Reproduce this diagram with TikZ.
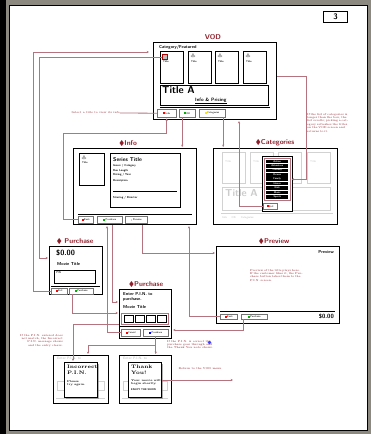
\documentclass[tikz,border=0pt]{standalone}
\usepackage{fontspec}
\usepackage{amssymb}
\usepackage{xcolor}
\usetikzlibrary{arrows.meta,shadows}
\definecolor{wire}{HTML}{B5737D}
\definecolor{ttlred}{HTML}{8E1F2A}
\definecolor{rim}{HTML}{8C8A80}

\begin{document}
\begin{tikzpicture}[x=1pt,y=-1pt,
  screen/.style={draw,line width=1.1pt,anchor=north west,inner sep=0pt,fill=white},
  pane/.style={draw,line width=0.9pt,anchor=north west,inner sep=0pt},
  ttl/.style={text=ttlred,font=\sffamily\bfseries\fontsize{7}{8}\selectfont,inner sep=0pt},
  btn/.style={draw=black!55,line width=0.4pt,anchor=north west,inner sep=0pt,fill=white,
    font=\sffamily\fontsize{2.6}{3}\selectfont},
  fine/.style={font=\sffamily\fontsize{2.8}{3.4}\selectfont,inner sep=0pt,anchor=north west,align=left},
  note/.style={text=ttlred,font=\fontsize{2.8}{3.4}\selectfont,inner sep=0pt,anchor=north west,align=left},
  wire/.style={draw=wire,line width=0.8pt},
  arr/.style={-{Stealth[length=2.4pt,width=2.2pt]},shorten >=1pt},
  rarr/.style={{Stealth[length=2.4pt,width=2.2pt]}-,shorten <=1pt}]
  \useasboundingbox (0,0) rectangle (371,434);
  \fill[rim] (0,0) rectangle (371,434);
  \fill[black] (0,0) rectangle (6,434);
  \node[draw,line width=1.2pt,fill=white,anchor=north west,inner sep=0pt,
    minimum width=358pt,minimum height=425pt] (page) at (9,5) {};
  \node[draw,line width=1.1pt,minimum width=24pt,minimum height=11pt,inner sep=0pt,anchor=north west,
    font=\sffamily\bfseries\fontsize{8}{8}\selectfont] (pgno) at (323,11) {3};

  % VOD screen
  \node[ttl] (vodttl) at (213,37) {VOD};
  \node[screen,minimum width=123pt,minimum height=77pt] (vod) at (153,42) {};
  \node[fine,font=\sffamily\bfseries\fontsize{4.3}{5}\selectfont] (vodcat) at (159,45.5) {Category/Featured};
  \foreach \x [count=\i] in {160,188,215,243}{
    \node[pane,line width=0.8pt,minimum width=23pt,minimum height=32pt] (t\i) at (\x,51) {};
    \node[fine,font=\sffamily\bfseries\fontsize{2.5}{3}\selectfont] (t\i l) at (\x+3,60.5) {Title};}
  \node[draw=red!70!black,fill=gray!50,minimum size=5pt,inner sep=0pt,line width=0.5pt] (t1i) at (165,57) {};
  \foreach \x [count=\i from 2] in {188,215,243}
    \node[text=gray!70,inner sep=0pt,font=\fontsize{4}{4}\selectfont] (t\i i) at (\x+5,56.5) {$\clubsuit$};
  \node[pane,minimum width=108pt,minimum height=20pt] (tbox) at (160,85) {};
  \node[fine,font=\sffamily\bfseries\fontsize{10}{10}\selectfont] (tname) at (162,86) {Title A};
  \node[fine,font=\sffamily\bfseries\fontsize{4.8}{5}\selectfont] (tinfo) at (195,97.5) {\underline{Info \& Pricing}};
  \draw[line width=1pt] (160,107) -- (270,107);

  % Info screen
  \node[ttl] (infottl) at (128,143) {$\blacklozenge$Info};
  \node[screen,minimum width=123pt,minimum height=76pt] (info) at (73,148) {};
  \node[pane,line width=0.8pt,minimum width=25pt,minimum height=32pt] (poster) at (79,153) {};
  \node[text=gray!70,inner sep=0pt,font=\fontsize{4}{4}\selectfont] (posteri) at (84,158) {$\clubsuit$};
  \node[fine,font=\sffamily\bfseries\fontsize{2.5}{3}\selectfont] (posterl) at (82,162) {Title};
  \node[pane,line width=0.8pt,minimum width=70pt,minimum height=54pt] (det) at (110,153) {};
  \node[fine,font=\sffamily\bfseries\fontsize{5.5}{6}\selectfont] (stitle) at (113,157) {Series Title};
  \node[fine,font=\sffamily\bfseries\fontsize{2.8}{3.6}\selectfont] (sdesc) at (113,164)
    {Genre / Category\\[2pt] Run Length\\ Rating / Year\\[2.5pt] Description};
  \draw[line width=0.8pt] (113,191) -- (177,191);
  \node[fine,font=\sffamily\bfseries\fontsize{2.8}{3.4}\selectfont] (scast) at (113,196) {Starring / Director};
  \draw[line width=0.8pt] (78,214) -- (192,214);

  % Categories screen
  \node[ttl] (catttl) at (275,143) {$\blacklozenge$Categories};
  \node[screen,minimum width=124pt,minimum height=76pt] (cat) at (213,148) {};
  \foreach \x [count=\i] in {222,250,278,307}{
    \node[pane,draw=gray!35,line width=0.8pt,minimum width=23pt,minimum height=31pt] (c\i) at (\x,152) {};
    \node[fine,text=gray!45] (c\i l) at (\x+3,160) {Title};}
  \node[pane,draw=gray!35,minimum width=108pt,minimum height=23pt] (ctbox) at (222,187) {};
  \node[fine,text=gray!40,font=\sffamily\bfseries\fontsize{10}{10}\selectfont] (ctname) at (225,189) {Title A};
  \draw[gray!35,line width=0.9pt] (221,213) -- (333,213);
  \node[fine,text=gray!50] (cbtns) at (222,216.5) {Info \quad\ OK \quad\ Categories};
  \node[screen,line width=1pt,minimum width=30pt,minimum height=55pt] (pop) at (262,156) {};
  \node[pane,draw=wire,line width=0.6pt,minimum width=26pt,minimum height=42pt] (plist) at (264,158) {};
  \foreach \t [count=\i] in {Action,Adventure,Comedy,Drama,Family,Horror,Kids,Music,Sports}
    \node[fill=black,text=white,anchor=north west,inner sep=0pt,minimum width=22pt,minimum height=3.6pt,
      font=\sffamily\bfseries\fontsize{2.5}{2.5}\selectfont] (ci\i) at (266,{159.5+(\i-1)*4.4}) {\t};

  % Purchase screens
  \node[ttl] (p1ttl) at (75,242) {$\blacklozenge$ Purchase};
  \node[screen,minimum width=53pt,minimum height=48pt] (pur1) at (49,246) {};
  \node[fine,font=\sffamily\bfseries\fontsize{7.5}{8}\selectfont] (p1price) at (56,250) {\$0.00};
  \node[fine,font=\sffamily\bfseries\fontsize{4.3}{5}\selectfont] (p1movie) at (57,262) {Movie Title};
  \node[pane,minimum width=41pt,minimum height=13pt] (p1pin) at (54,270) {};
  \node[fine] (p1pinl) at (56,271.5) {PIN};
  \draw[line width=0.8pt] (51,286.5) -- (100,286.5);
  \node[ttl] (p2ttl) at (146,284) {$\blacklozenge$Purchase};
  \node[screen,minimum width=52pt,minimum height=49pt] (pur2) at (119,289) {};
  \node[fine,font=\sffamily\bfseries\fontsize{4.3}{4.8}\selectfont] (p2msg) at (123,292.5) {Enter P.I.N. to\\purchase.};
  \node[fine,font=\sffamily\bfseries\fontsize{4.3}{4.8}\selectfont] (p2movie) at (123,305) {Movie Title};
  \node[pane,draw=wire,line width=0.7pt,minimum width=47pt,minimum height=11pt] (p2pin) at (121,313) {};
  \foreach \i in {0,...,3}
    \node[pane,line width=0.9pt,minimum width=9pt,minimum height=7pt] (pd\i) at ({124+\i*11},315) {};
  \draw[line width=0.9pt] (120,326.5) -- (170,326.5);

  % Preview screen
  \node[ttl] (pvttl) at (274,242) {$\blacklozenge$Preview};
  \node[screen,minimum width=123pt,minimum height=77pt] (prev) at (216,246) {};
  \node[fine,anchor=north east,font=\sffamily\bfseries\fontsize{4.3}{5}\selectfont] (pvlabel) at (334,250) {Preview};
  \node[note,anchor=north,text width=56pt] (pvtext) at (278,269)
    {Preview of the title plays here. If the customer likes it, the Purchase button takes them to the P.I.N. screen.};
  \draw[line width=0.9pt] (220,311) -- (335,311);
  \node[fine,anchor=north east,font=\sffamily\bfseries\fontsize{6}{6}\selectfont] (pvprice) at (334,314) {\$0.00};

  % buttons
  \foreach \n/\x/\y/\w/\h/\c/\t in {vb1/157/109/19/8/red/Info, vb2/179/109/16/8/green!70!black/OK,
      vb3/199/109/26/8/yellow!90!orange/Categories, ib1/78/216/15/7/red/Back,
      ib2/97/216/25/7/green!70!black/Purchase, ib3/125/216/22/7/yellow!90!orange/Preview,
      cx/263/203/14/6/red/Exit, p1b1/51/288/16/5.5/red/Exit, p1b2/69/288/24/5.5/green!70!black/Purchase,
      p2b1/121/329/19/7/red/Cancel, p2b2/143/329/25/7/blue/Purchase,
      pv1/220/314/17/5/red/Back, pv2/241/314/26/5/green!70!black/Purchase}
    \node[btn,minimum width=\w pt,minimum height=\h pt] (\n) at (\x,\y) {\textcolor{\c}{\rule{1.8pt}{1.8pt}}\,\t};

  % message screens
  \node[screen,minimum width=55pt,minimum height=48pt] (inc) at (53,355) {};
  \node[fine,text=gray!40,font=\sffamily\bfseries\fontsize{3.5}{4}\selectfont] (incbg) at (57,357) {Enter P.I.N. to};
  \node[pane,draw=gray!35,line width=0.7pt,minimum width=47pt,minimum height=9pt] (incbgbox) at (57,381) {};
  \draw[gray!35,line width=0.8pt] (56,398) -- (105,398);
  \node[screen,line width=1pt,minimum width=33pt,minimum height=35pt,
    drop shadow={opacity=0.6,shadow xshift=1.3pt,shadow yshift=-1.3pt}] (incp) at (64,362) {};
  \node[fine,font=\bfseries\fontsize{5}{5.5}\selectfont] (inct) at (67,365) {Incorrect\\P.I.N.};
  \node[fine,font=\bfseries\fontsize{2.8}{3.4}\selectfont] (incs) at (67,380) {Please\\try again.};
  \node[screen,minimum width=52pt,minimum height=48pt] (thx) at (119,355) {};
  \node[fine,text=gray!40,font=\sffamily\bfseries\fontsize{3.5}{4}\selectfont] (thxbg) at (123,357) {Enter P.I.N. to};
  \node[pane,draw=gray!35,line width=0.7pt,minimum width=44pt,minimum height=9pt] (thxbgbox) at (123,381) {};
  \draw[gray!35,line width=0.8pt] (122,398) -- (168,398);
  \node[screen,line width=1pt,minimum width=33pt,minimum height=35pt,
    drop shadow={opacity=0.6,shadow xshift=1.3pt,shadow yshift=-1.3pt}] (thxp) at (128,362) {};
  \node[fine,font=\bfseries\fontsize{5}{5.5}\selectfont] (thxt) at (131,365) {Thank\\You!};
  \node[fine,font=\bfseries\fontsize{2.8}{3.4}\selectfont] (thxs) at (131,379) {Your movie will\\begin shortly.};
  \node[fine,font=\sffamily\bfseries\fontsize{2.6}{3}\selectfont] (thxb) at (131,388) {ENJOY THE SHOW};

  % notes
  \node[note,anchor=east] (n1) at (120,113) {Select a title to view its info};
  \node[note,text width=43pt] (n2) at (307,113)
    {If the list of categories is longer than the box, the list scrolls; picking a category refreshes the titles on the VOD screen and returns to it.};
  \node[note,anchor=north east,align=right] (n3) at (63,334)
    {If the P.I.N. entered does\\not match, the Incorrect\\P.I.N. message shows\\and the entry clears.};
  \node[note] (n4) at (167,340) {If the P.I.N. is correct the\\purchase goes through and\\the Thank You note shows.};
  \node[circle,fill=blue!75,inner sep=1.4pt] (bdot) at (209.5,342.5) {};
  \node[note,anchor=south] (n5) at (200,369.5) {Return to the VOD menu};

  % connectors
  \draw[wire,arr,shorten >=4pt] (p1b1.west) -- ++(-18,0) |- ([yshift=-10pt]vod.north west);
  \draw[wire,arr] (t1i.west) -- ++(-123,0) |- ([yshift=-12pt]pur1.north west);
  \draw[wire,rarr] (vb1.south) -- ++(0,16) -- ++(-103,0) |- (ib1.west);
  \draw[wire,arr] ([xshift=-5pt]vb2.south) -- ([xshift=-5pt]vb2.south |- info.north);
  \draw[wire,arr] ([xshift=11pt]vb3.south) -- ([xshift=11pt]vb3.south |- cat.north);
  \draw[wire,rarr] ([xshift=86pt]vod.south west) |- (cx.west);
  \draw[wire,arr] ([yshift=4.5pt]vod.east) -- ++(29,0) |- (plist.east);
  \draw[wire] (n1.east) -- (vb1.west);
  \draw[wire,arr] ([xshift=39pt]info.south west) |- ([yshift=-13pt]pur2.north west);
  \draw[wire,rarr] ([xshift=34pt]info.south west) |- (p2b1.west);
  \draw[wire,arr] ([xshift=69pt]info.south west) |- ([yshift=-7pt]prev.north west);
  \draw[wire,rarr] ([xshift=116pt]info.south west) |- (pv1.west);
  \draw[wire,arr] ([xshift=-9pt]p1b2.south) |- ([yshift=-24pt]pur2.north west);
  \draw[wire,arr] ([xshift=-11pt]pv2.south) |- ([yshift=-41pt]pur2.north east);
  \draw[wire,arr] ([yshift=-35pt]pur2.north west) -| ([xshift=9pt]incp.north west);
  \draw[wire,arr] (p2b2.south) -- (p2b2.south |- thx.north);
  \draw[wire,arr] ([yshift=-9pt]p2b2.south) -| ([xshift=35pt]inc.north west);
  \draw[wire,arr] (thxp.east) -- ++(72,0);
\end{tikzpicture}
\end{document}
